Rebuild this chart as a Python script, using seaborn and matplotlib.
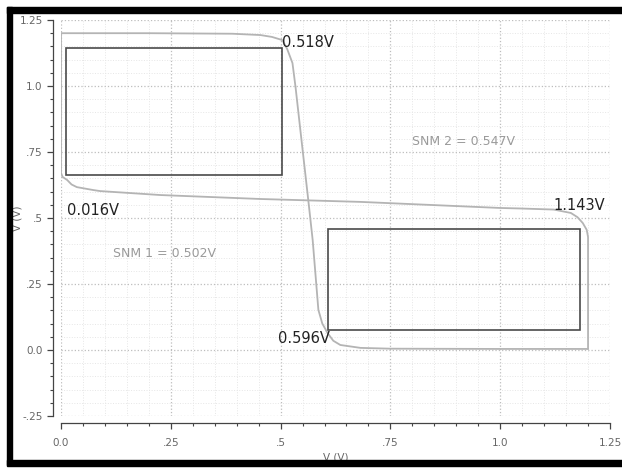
import numpy as np
import matplotlib
matplotlib.use("Agg")
import matplotlib.pyplot as plt
from matplotlib.patches import Rectangle
from matplotlib.ticker import MultipleLocator
import seaborn as sns

# butterfly curve data
a_x = [0.0, 0.2, 0.39, 0.454, 0.48, 0.504, 0.515, 0.527, 0.534, 0.545, 0.563, 0.573,
       0.586, 0.595, 0.607, 0.62, 0.636, 0.682, 0.75, 1.0, 1.2]
a_y = [1.2, 1.2, 1.198, 1.193, 1.186, 1.174, 1.14, 1.087, 0.996, 0.833, 0.568, 0.417,
       0.152, 0.1, 0.064, 0.035, 0.019, 0.008, 0.005, 0.004, 0.004]

b_x = [1.2, 1.2, 1.2, 1.197, 1.188, 1.176, 1.161, 1.122, 1.047, 1.0, 0.682, 0.454,
       0.226, 0.089, 0.073, 0.036, 0.024, 0.014, 0.004, 0.0, 0.0]
b_y = [0.004, 0.33, 0.428, 0.455, 0.481, 0.503, 0.519, 0.532, 0.536, 0.538, 0.561, 0.572,
       0.587, 0.602, 0.606, 0.617, 0.627, 0.644, 0.655, 0.67, 1.2]

# noise margin squares: x0, x1, y0, y1
rect1 = [0.011, 0.504, 0.663, 1.144]
rect2 = [0.607, 1.182, 0.076, 0.458]

point_labels = ["0.518V", "0.016V", "1.143V", "0.596V"]
snm_labels = ["SNM 1 = 0.502V", "SNM 2 = 0.547V"]

x_ticks = [0.0, 0.25, 0.5, 0.75, 1.0, 1.25]
x_ticklabels = ["0.0", ".25", ".5", ".75", "1.0", "1.25"]
y_ticks = [-0.25, 0.0, 0.25, 0.5, 0.75, 1.0, 1.25]
y_ticklabels = ["-.25", "0.0", ".25", ".5", ".75", "1.0", "1.25"]

sns.set_theme(style="white")
plt.rcParams["font.family"] = ["DejaVu Sans"]

fig = plt.figure(figsize=(6.22, 4.68), dpi=100)
ax = fig.add_axes([61/622, 1-416/468, 549/622, 396/468])

curve_col = "#b4b4b4"
sns.lineplot(x=a_x, y=a_y, sort=False, estimator=None, color=curve_col, lw=1.3, ax=ax)
sns.lineplot(x=b_x, y=b_y, sort=False, estimator=None, color=curve_col, lw=1.3, ax=ax)

for r in [rect1, rect2]:
    ax.add_patch(Rectangle((r[0], r[2]), r[1]-r[0], r[3]-r[2], fill=False,
                           edgecolor="#4a4a4a", lw=1.2, zorder=3))

ax.set_xlim(0, 1.25)
ax.set_ylim(-0.25, 1.25)

# grid
ax.xaxis.set_minor_locator(MultipleLocator(0.05))
ax.yaxis.set_minor_locator(MultipleLocator(0.05))
ax.grid(True, which="major", color="#bdbdbd", ls=":", lw=0.9)
ax.grid(True, which="minor", color="#e6e6e6", ls=":", lw=0.7)
ax.set_axisbelow(True)

ax.set_xticks(x_ticks)
ax.set_xticklabels(x_ticklabels)
ax.set_yticks(y_ticks)
ax.set_yticklabels(y_ticklabels)
ax.tick_params(which="major", direction="out", length=4.3, width=0.9, color="#444444",
               labelsize=7.5, labelcolor="#666666", left=True, bottom=True)
ax.tick_params(axis="y", which="major", pad=3)
ax.tick_params(axis="x", which="major", pad=6.5)
ax.tick_params(which="minor", direction="out", length=2.2, width=0.8, color="#444444",
               left=True, bottom=True)

for s in ["top", "right"]:
    ax.spines[s].set_visible(False)
ax.spines["left"].set_position(("outward", 5.8))
ax.spines["bottom"].set_position(("outward", 5.0))
for s in ["left", "bottom"]:
    ax.spines[s].set_color("#444444")
    ax.spines[s].set_linewidth(0.9)

ax.set_xlabel("V (V)", fontsize=7.5, color="#666666")
ax.set_ylabel("V (V)", fontsize=7.5, color="#666666")
ax.xaxis.set_label_coords(0.5, -0.091)
ax.yaxis.set_label_coords(-0.071, 0.5)

# annotations
dark = "#222222"
ax.text(0.504, 1.163, point_labels[0], fontsize=10.5, color=dark, ha="left", va="center")
ax.text(0.014, 0.53, point_labels[1], fontsize=10.5, color=dark, ha="left", va="center")
ax.text(1.122, 0.549, point_labels[2], fontsize=10.5, color=dark, ha="left", va="center")
ax.text(0.493, 0.045, point_labels[3], fontsize=10.5, color=dark, ha="left", va="center")
ax.text(0.119, 0.367, snm_labels[0], fontsize=9, color="#9a9a9a", ha="left", va="center")
ax.text(0.80, 0.788, snm_labels[1], fontsize=9, color="#9a9a9a", ha="left", va="center")

# black frame around the picture
fig.add_artist(Rectangle((7/622, 1-13/468), 615/622, 6/468, transform=fig.transFigure,
                         color="black", zorder=10))
fig.add_artist(Rectangle((7/622, 1-465/468), 5/622, 458/468, transform=fig.transFigure,
                         color="black", zorder=10))
fig.add_artist(Rectangle((7/622, 1-466/468), 615/622, 6/468, transform=fig.transFigure,
                         color="black", zorder=10))

fig.savefig("out.png", dpi=100)
